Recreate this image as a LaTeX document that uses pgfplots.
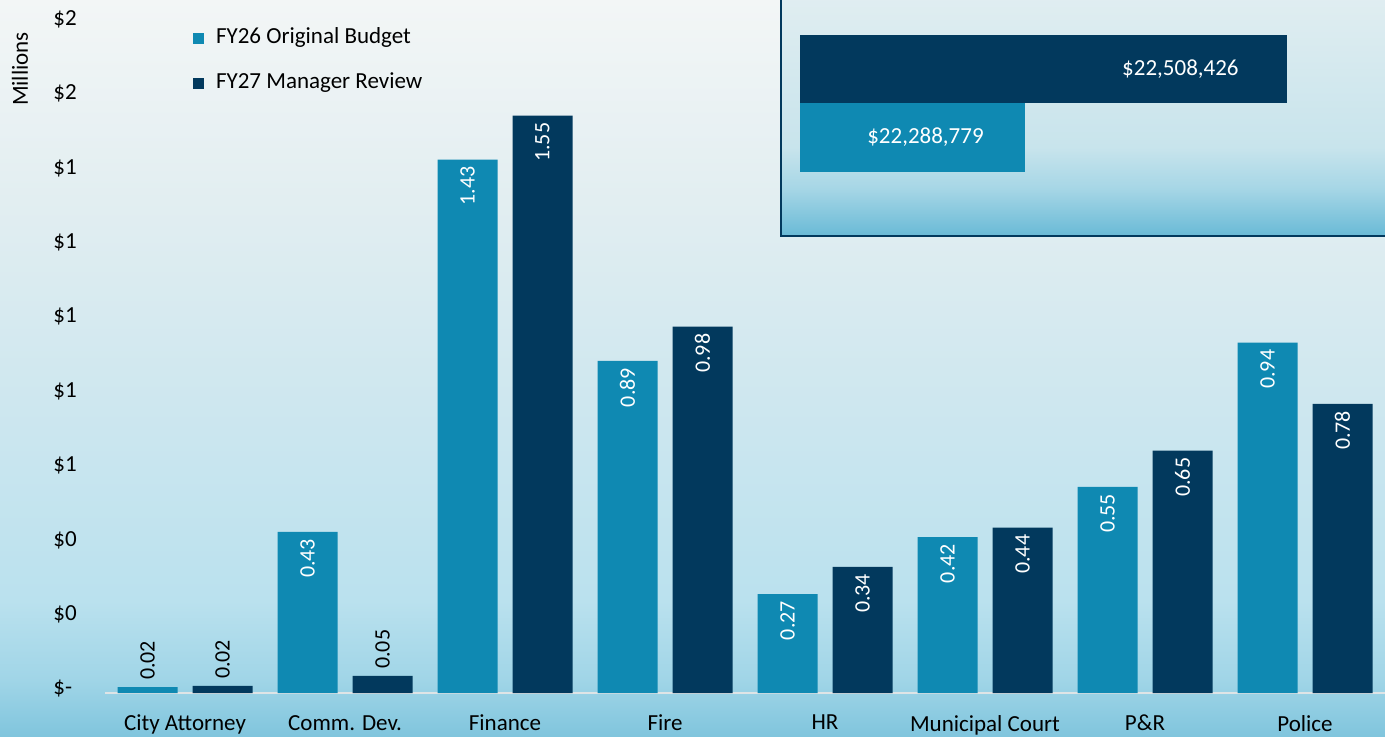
\documentclass[border=0pt]{standalone}
\usepackage{fontspec}
\setmainfont{Carlito}
\usepackage{pgfplots}
\pgfplotsset{compat=1.18}
\definecolor{lightbar}{RGB}{15,137,178}
\definecolor{darkbar}{RGB}{2,57,93}
\definecolor{axgray}{RGB}{222,228,230}
\definecolor{bg0}{RGB}{243,246,246}
\definecolor{bg1}{RGB}{226,238,241}
\definecolor{bg2}{RGB}{206,231,239}
\definecolor{bg3}{RGB}{186,225,238}
\definecolor{bg4}{RGB}{160,213,231}
\definecolor{bg5}{RGB}{128,197,221}
\definecolor{bx0}{RGB}{225,238,241}
\definecolor{bx1}{RGB}{200,228,236}
\definecolor{bx2}{RGB}{166,214,230}
\definecolor{bx3}{RGB}{105,186,214}
\pgfdeclareverticalshading{bgshade}{100bp}{color(0bp)=(bg5); color(25bp)=(bg5); color(28.8bp)=(bg4); color(34.2bp)=(bg3); color(47.8bp)=(bg2); color(61.4bp)=(bg1); color(75bp)=(bg0); color(100bp)=(bg0)}
\pgfdeclareverticalshading{boxshade}{100bp}{color(0bp)=(bx3); color(25bp)=(bx3); color(34.5bp)=(bx2); color(42.8bp)=(bx1); color(74bp)=(bx0); color(100bp)=(bx0)}
\pgfplotsset{
  inlbl/.style={only marks, mark=none, forget plot,
    nodes near coords={\pgfmathprintnumber[fixed,fixed zerofill,precision=2]{\pgfplotspointmeta}},
    every node near coord/.append style={rotate=90, anchor=east, white, font=\fontsize{11}{13}\selectfont}},
  outlbl/.style={only marks, mark=none, forget plot,
    nodes near coords={\pgfmathprintnumber[fixed,fixed zerofill,precision=2]{\pgfplotspointmeta}},
    every node near coord/.append style={rotate=90, anchor=west, black, font=\fontsize{11}{13}\selectfont}},
}
\begin{document}
\begin{tikzpicture}[font=\fontsize{11.5}{13.8}\selectfont]
\path[use as bounding box] (0,0) rectangle (692.5pt,368pt);
\clip (0,0) rectangle (692.5pt,368pt);
\shade[shading=bgshade] (0,0) rectangle (692.5pt,368pt);
\node[rotate=90, black] at (10pt,333.5pt) {Millions};
\begin{axis}[
  at={(52.5pt,21.5pt)}, anchor=south west,
  width=640pt, height=335pt, scale only axis,
  xmin=-0.5, xmax=7.5, ymin=0, ymax=1.8,
  clip=false,
  axis x line*=bottom, axis y line*=left,
  x axis line style={draw=axgray, line width=1pt, -},
  y axis line style={draw=none},
  major tick length=0pt,
  xtick={0,...,7},
  xticklabels={City Attorney, Comm. Dev., Finance, Fire, HR, Municipal Court, P\&R, Police},
  xticklabel style={yshift=-7.5pt, font=\fontsize{11.5}{13.8}\selectfont},
  ytick={0,0.2,0.4,0.6,0.8,1.0,1.2,1.4,1.6,1.8},
  yticklabels={\$-,\$0,\$0,\$1,\$1,\$1,\$1,\$1,\$2,\$2},
  yticklabel style={anchor=west, inner sep=0pt, xshift=-26pt, yshift=2pt, font=\fontsize{11.5}{13.8}\selectfont},
  /pgf/number format/assume math mode=true,
  legend style={at={(0.0685,1.0)}, anchor=north west, draw=none, fill=none,
    font=\fontsize{11.5}{13.8}\selectfont, row sep=9pt, inner sep=0pt,
    nodes={inner xsep=6pt}},
  legend cell align=left,
  legend image code/.code={\fill[#1] (0pt,-3.5pt) rectangle (5.5pt,2pt);},
]
\addplot[ybar, bar width=30pt, bar shift=-18.75pt, fill=lightbar, draw=none]
  coordinates {(0,0.016) (1,0.433) (2,1.433) (3,0.892) (4,0.266) (5,0.419) (6,0.554) (7,0.941)};
\addlegendentry{FY26 Original Budget}
\addplot[ybar, bar width=30pt, bar shift=18.75pt, fill=darkbar, draw=none]
  coordinates {(0,0.019) (1,0.046) (2,1.551) (3,0.984) (4,0.339) (5,0.444) (6,0.651) (7,0.777)};
\addlegendentry{FY27 Manager Review}
% labels inside bars (x offset = bar shift in data units, 18.75pt / 80pt)
\addplot[inlbl] coordinates {(0.765625,0.433) (1.765625,1.433) (2.765625,0.892) (3.765625,0.266) (4.765625,0.419) (5.765625,0.554) (6.765625,0.941)};
\addplot[inlbl] coordinates {(2.234375,1.551) (3.234375,0.984) (4.234375,0.339) (5.234375,0.444) (6.234375,0.651) (7.234375,0.777)};
% labels above small bars
\addplot[outlbl] coordinates {(-0.234375,0.016) (0.234375,0.019) (1.234375,0.046)};
\end{axis}
% inset box
\shade[shading=boxshade, draw=darkbar, line width=1.2pt] (390.5pt,250pt) rectangle (705pt,375pt);
\begin{axis}[
  at={(400pt,265pt)}, anchor=south west,
  width=292.5pt, height=102.75pt, scale only axis,
  xmin=22100000, xmax=22590566, ymin=-1, ymax=2,
  hide axis,
]
\addplot[xbar, bar width=34.25pt, bar shift=0pt, fill=darkbar, draw=none,
  point meta=explicit symbolic, nodes near coords,
  every node near coord/.append style={anchor=east, white, xshift=-20.7pt, font=\fontsize{11.5}{13.8}\selectfont}]
  coordinates {(22508426,1) [\$22,508,426]};
\addplot[xbar, bar width=34.25pt, bar shift=0pt, fill=lightbar, draw=none,
  point meta=explicit symbolic, nodes near coords,
  every node near coord/.append style={anchor=east, white, xshift=-17.2pt, font=\fontsize{11.5}{13.8}\selectfont}]
  coordinates {(22288779,0) [\$22,288,779]};
\end{axis}
\end{tikzpicture}
\end{document}
